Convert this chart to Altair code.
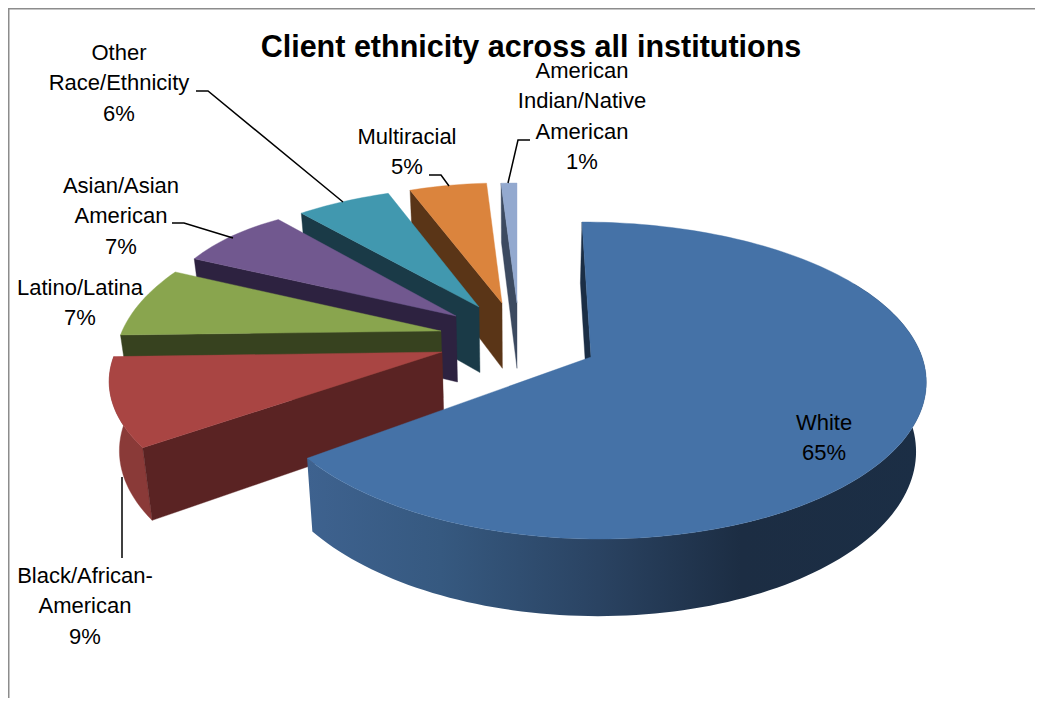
import math
import altair as alt
import pandas as pd

# ---- chart values ----
categories = ["White", "Black/African-American", "Latino/Latina", "Asian/Asian American",
              "Other Race/Ethnicity", "Multiracial", "American Indian/Native American"]
shares = [65, 9, 7, 7, 6, 5, 1]
label_lines = [["White", "65%"], ["Black/African-", "American", "9%"], ["Latino/Latina", "7%"],
               ["Asian/Asian", "American", "7%"], ["Other", "Race/Ethnicity", "6%"],
               ["Multiracial", "5%"], ["American", "Indian/Native", "American", "1%"]]
title_text = "Client ethnicity across all institutions"

# ---- styling and layout (page pixels) ----
top_colors = ["#4572a7", "#a94543", "#89a54e", "#71588f", "#4198af", "#db843d", "#93a9cf"]
wall_colors = ["#1b2e45", "#5a2323", "#37421f", "#2d2240", "#1a3a47", "#5a3517", "#3c4a60"]
rim_colors = [None, "#8a3a38", None, None, None, None, None]
apex_x = [591, 442, 441, 456, 479, 502, 517]
apex_y = [357, 352, 331, 316, 307, 303, 303]
persp_a = [158.5, 151, 157, 179, 152, 139, 139]
persp_d = [23.5, 32, 32, 64, 32, 19, 19]
rx_a = [331, 324, 316, 304, 307, 300, 300]
rx_d = [45, 78, 82, 61, 65, 54, 46]
skew = [-9, 0, 0, 0, 0, 0, 0]
shear = [0, 5, 6, 0, 0, 0, 0]
label_x = [824, 85, 80, 121, 119, 407, 582]
label_y = [423, 576, 288, 186, 53, 137, 71]
line_gap = 30.3
leaders = [[(122, 477), (122, 558)],
           [(172, 223), (184, 223), (233, 238)],
           [(196, 91), (208, 91), (343, 202)],
           [(429, 175), (441, 175), (449, 186)],
           [(530, 140), (518, 140), (508, 183)]]
W, H = 1027, 690
FONT = "Liberation Sans"

x_scale = alt.Scale(domain=[8, 8 + W], range=[0, W], nice=False, zero=False)
y_scale = alt.Scale(domain=[8, 8 + H], range=[0, H], nice=False, zero=False)
X = alt.X("x:Q", scale=x_scale, axis=None)
Y = alt.Y("y:Q", scale=y_scale, axis=None)


def top_point(i, deg):
    t = math.radians(deg)
    c, s = math.cos(t), math.sin(t)
    return (apex_x[i] + s * (rx_a[i] - rx_d[i] * c) + skew[i] * c,
            apex_y[i] - c * (persp_a[i] - persp_d[i] * c) + shear[i] * s)


def low_point(p):
    return (517 + 0.975 * (p[0] - 517), p[1] + 66 + 0.05 * (p[1] - 316))


def arc(i, d0, d1):
    n = max(2, int(abs(d1 - d0) / 1.5) + 1)
    return [top_point(i, d0 + (d1 - d0) * k / (n - 1)) for k in range(n)]


def face(points, fill):
    closed = points + [points[0]]
    df = pd.DataFrame({"x": [p[0] for p in closed], "y": [p[1] for p in closed],
                       "o": list(range(len(closed)))})
    if isinstance(fill, str):
        mark = alt.Chart(df).mark_line(fill=fill, stroke=fill, strokeWidth=0.4)
    else:
        mark = alt.Chart(df).mark_line(fill=fill, strokeOpacity=0)
    return mark.encode(x=X, y=Y, order=alt.Order("o:Q"))


starts, acc = [], 0.0
for v in shares:
    starts.append(acc)
    acc += v * 3.6

white_wall = alt.Gradient(
    gradient="linear", x1=0, x2=1, y1=0, y2=0,
    stops=[alt.GradientStop(offset=0, color="#3e628f"),
           alt.GradientStop(offset=0.216, color="#365980"),
           alt.GradientStop(offset=0.47, color="#2a4362"),
           alt.GradientStop(offset=0.7, color="#1c2d43"),
           alt.GradientStop(offset=1, color="#1b2e45")])

layers = []
for i in range(len(shares) - 1, -1, -1):
    d0, d1 = starts[i], starts[i] + shares[i] * 3.6
    apex = (apex_x[i], apex_y[i])
    if i == 0:
        rim = arc(i, 60, d1)
        layers.append(face(rim + [low_point(p) for p in reversed(rim)], white_wall))
    elif rim_colors[i]:
        rim = arc(i, d0, d1)
        layers.append(face(rim + [low_point(p) for p in reversed(rim)], rim_colors[i]))
    corner = top_point(i, d0)
    layers.append(face([apex, corner, low_point(corner), low_point(apex)], wall_colors[i]))
    layers.append(face([apex] + arc(i, d0, d1), top_colors[i]))

for k, seg in enumerate(leaders):
    df = pd.DataFrame({"x": [p[0] for p in seg], "y": [p[1] for p in seg],
                       "o": list(range(len(seg)))})
    layers.append(alt.Chart(df).mark_line(color="black", strokeWidth=1.5).encode(
        x=X, y=Y, order=alt.Order("o:Q")))

rows = []
for i, lines in enumerate(label_lines):
    for j, line in enumerate(lines):
        rows.append({"x": label_x[i], "y": label_y[i] + j * line_gap, "t": line})
layers.append(alt.Chart(pd.DataFrame(rows)).mark_text(
    font=FONT, fontSize=22, color="black", align="center", baseline="middle").encode(
    x=X, y=Y, text="t:N"))

layers.append(alt.Chart(pd.DataFrame({"x": [531], "y": [48], "t": [title_text]})).mark_text(
    font=FONT, fontSize=30.5, fontWeight="bold", color="black", align="center", baseline="middle").encode(
    x=X, y=Y, text="t:N"))

frame_color = "#8c8c8c"
layers.append(alt.Chart(pd.DataFrame({"x": [8, 8, 8 + W], "y": [8 + H, 8, 8], "o": [0, 1, 2]})).mark_line(
    color=frame_color, strokeWidth=3).encode(x=X, y=Y, order=alt.Order("o:Q")))

chart = alt.layer(*layers).properties(
    width=W, height=H, padding=0, autosize=alt.AutoSizeParams(type="none"),
    background="white").configure_view(stroke=None)
chart.save("out.html", embed_options={"renderer": "svg", "actions": False})
